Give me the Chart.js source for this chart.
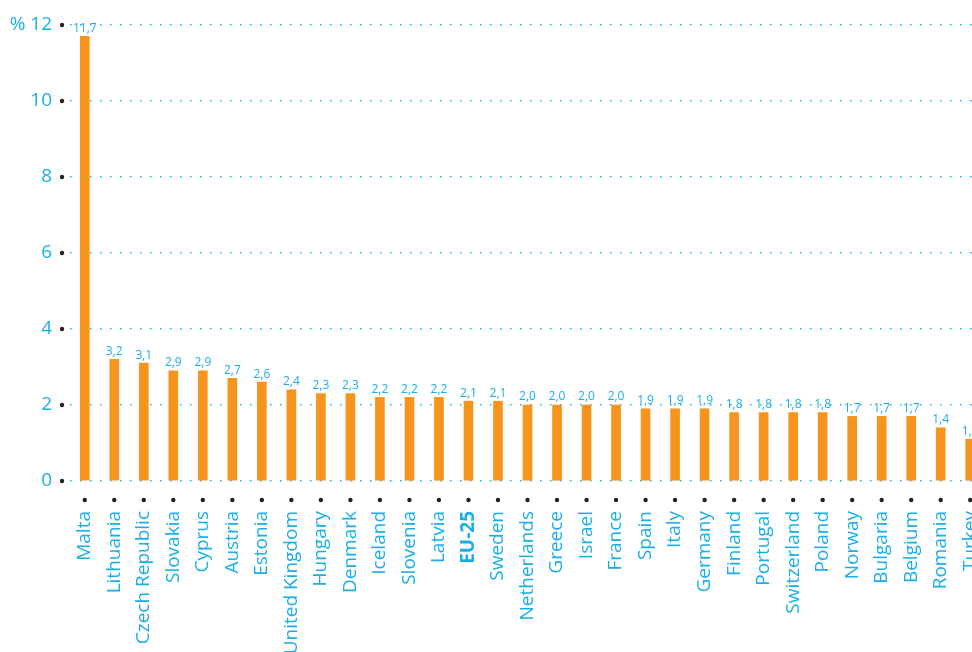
<!DOCTYPE html>
<html>
<head>
<meta charset="utf-8">
<script src="https://cdn.jsdelivr.net/npm/chart.js@4"></script>
<style>
  html, body { margin: 0; padding: 0; background: #fff; overflow: hidden; }
  #wrap { width: 972px; height: 652px; overflow: hidden; }
</style>
</head>
<body>
<div id="wrap"><canvas id="chart" width="986" height="652"></canvas></div>
<script>
const countries = ["Malta", "Lithuania", "Czech Republic", "Slovakia", "Cyprus", "Austria", "Estonia",
  "United Kingdom", "Hungary", "Denmark", "Iceland", "Slovenia", "Latvia", "EU-25", "Sweden",
  "Netherlands", "Greece", "Israel", "France", "Spain", "Italy", "Germany", "Finland", "Portugal",
  "Switzerland", "Poland", "Norway", "Bulgaria", "Belgium", "Romania", "Turkey"]
const shares = [11.7, 3.2, 3.1, 2.9, 2.9, 2.7, 2.6, 2.4, 2.3, 2.3, 2.2, 2.2, 2.2, 2.1, 2.1,
  2.0, 2.0, 2.0, 2.0, 1.9, 1.9, 1.9, 1.8, 1.8, 1.8, 1.8, 1.7, 1.7, 1.7, 1.4, 1.1]
const yTicks = [0, 2, 4, 6, 8, 10, 12]

const cyan = "#1aafe6"
const orange = "#f7941d"

// black dots at every tick, plus the value labels over the bars
const extras = {
  id: "extras",
  afterDatasetsDraw(chart) {
    const ctx = chart.ctx
    const x = chart.scales.x, y = chart.scales.y
    ctx.save()
    ctx.fillStyle = "#222"
    y.ticks.forEach((t, i) => {
      ctx.beginPath()
      ctx.arc(62, y.getPixelForTick(i), 2.2, 0, Math.PI * 2)
      ctx.fill()
    })
    x.ticks.forEach((t, i) => {
      ctx.beginPath()
      ctx.arc(x.getPixelForTick(i), x.top + 19, 2.2, 0, Math.PI * 2)
      ctx.fill()
    })
    ctx.fillStyle = cyan
    ctx.font = "12px 'Open Sans'"
    ctx.textAlign = "center"
    ctx.textBaseline = "bottom"
    chart.getDatasetMeta(0).data.forEach((bar, i) => {
      ctx.fillText(shares[i].toFixed(1).replace(".", ","), bar.x, bar.y - 2)
    })
    ctx.restore()
  }
}

new Chart(document.getElementById("chart"), {
  type: "bar",
  data: {
    labels: countries,
    datasets: [{
      data: shares,
      backgroundColor: orange,
      barThickness: 9
    }]
  },
  options: {
    responsive: false,
    animation: false,
    layout: { padding: { top: 25, right: 1, left: 0, bottom: 0 } },
    plugins: { legend: { display: false }, tooltip: { enabled: false } },
    scales: {
      x: {
        afterFit: (s) => { s.height = 171; s.paddingLeft = 0; s.paddingRight = 0 },
        grid: { display: false },
        border: { display: false },
        ticks: {
          color: cyan,
          minRotation: 90,
          maxRotation: 90,
          autoSkip: false,
          padding: 22,
          font: (c) => ({
            family: "'Open Sans'",
            size: 19,
            weight: countries[c.index] === "EU-25" ? "bold" : "normal"
          })
        }
      },
      y: {
        min: 0,
        max: 12,
        afterBuildTicks: (s) => { s.ticks = yTicks.map(v => ({ value: v })) },
        afterFit: (s) => { s.width = 70; s.paddingTop = 0; s.paddingBottom = 0 },
        border: { display: false, dash: [1.5, 8.5] },
        grid: {
          color: cyan,
          lineWidth: 1.5,
          drawTicks: false
        },
        ticks: {
          color: cyan,
          padding: 18,
          font: { family: "'Open Sans'", size: 19 },
          callback: (v) => v === 12 ? "% 12" : v
        }
      }
    }
  },
  plugins: [extras]
})
</script>
</body>
</html>
